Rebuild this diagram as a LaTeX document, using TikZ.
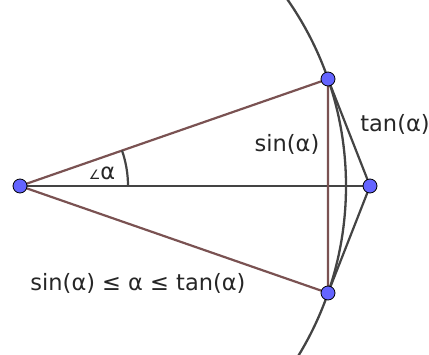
\documentclass[tikz,border=0pt]{standalone}
\usepackage{fontspec}
\setmainfont{DejaVu Sans}
\definecolor{segbrown}{RGB}{122,82,82}
\definecolor{linegray}{RGB}{68,68,68}
\definecolor{ptblue}{RGB}{100,100,255}
\tikzset{
  circ/.style={draw=linegray,line width=2.3pt},
  seg/.style={draw=segbrown,line width=2.2pt},
  blk/.style={draw=linegray,line width=2.2pt},
  pt/.style={circle,fill=ptblue,draw=black,line width=0.8pt,inner sep=0pt,minimum size=14pt},
  lbl/.style={font=\fontsize{22.5}{26}\selectfont,text=black!85,inner sep=0pt}
}
\begin{document}
\begin{tikzpicture}[x=1pt,y=-1pt]
\useasboundingbox (0,0) rectangle (429,354);
\clip (0,0) rectangle (429,354);
\coordinate (O) at (20,186);
\coordinate (A) at (328,79);
\coordinate (B) at (328,293);
\coordinate (T) at (370,186);
% circle
\draw[circ] (O) circle[radius=326];
% segments
\draw[blk] (O) -- (T);
\draw[blk] (A) -- (T) -- (B);
\draw[seg] (O) -- (A) -- (B) -- (O);
% angle arc
\draw[blk] (128,186) arc[start angle=0,end angle=-19.2,radius=108];
% points
\node[pt] (nO) at (O) {};
\node[pt] (nA) at (A) {};
\node[pt] (nB) at (B) {};
\node[pt] (nT) at (T) {};
% labels
\node[lbl] (la) at (102,173) {{\fontsize{13}{14}\selectfont ∠}α};
\node[lbl] (ls) at (287,144) {sin(α)};
\node[lbl] (lt) at (395,124) {tan(α)};
\node[lbl] (lin) at (138,283) {sin(α) ≤ α ≤ tan(α)};
\end{tikzpicture}
\end{document}
